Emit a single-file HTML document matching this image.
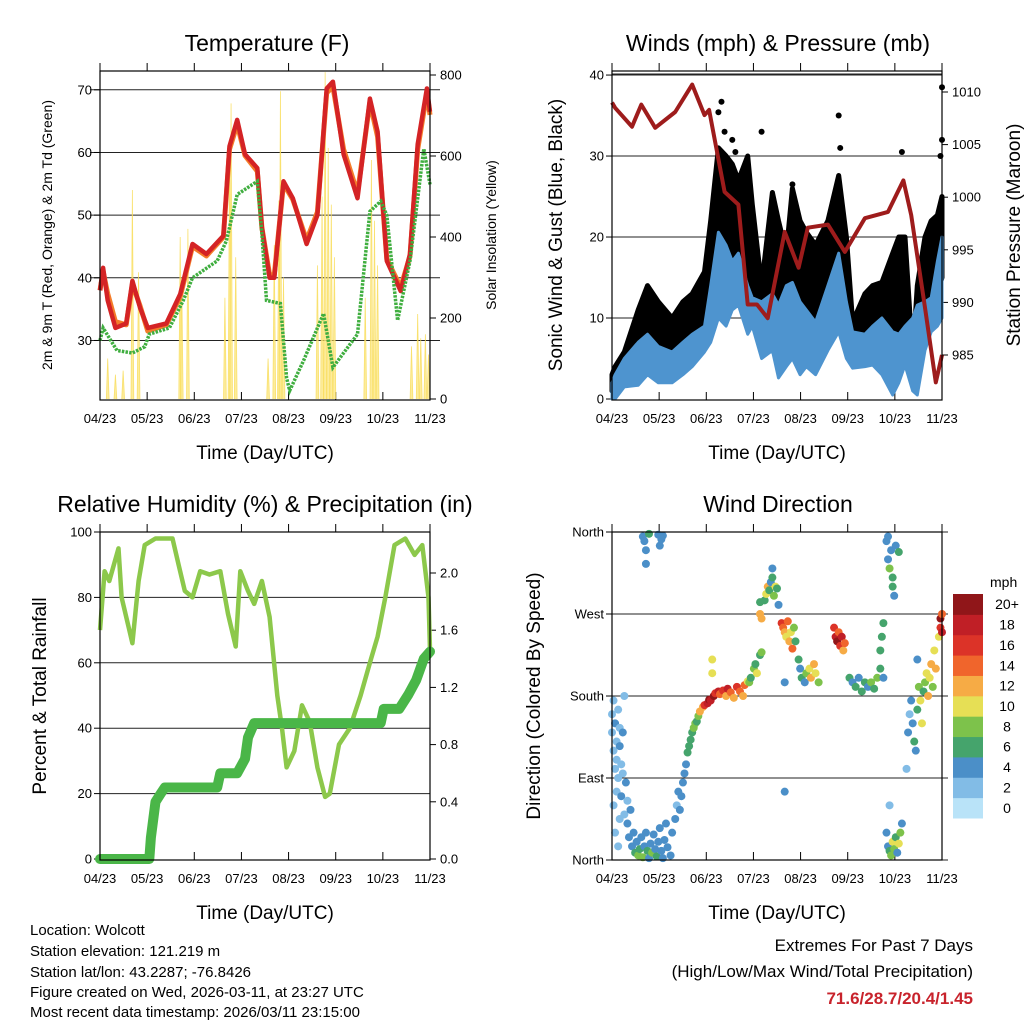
<!DOCTYPE html>
<html><head><meta charset="utf-8"><style>
html,body{margin:0;padding:0;background:#fff;}
svg{display:block;font-family:"Liberation Sans",sans-serif;}
</style></head><body>
<svg id="fig" width="1024" height="1024" viewBox="0 0 1024 1024" xmlns="http://www.w3.org/2000/svg">
<g id="p1"></g>
<g id="p2"></g>
<g id="p3"></g>
<g id="p4"></g>
<g font-size="15" fill="#000">
<text x="30" y="935">Location: Wolcott</text>
<text x="30" y="956">Station elevation: 121.219 m</text>
<text x="30" y="977">Station lat/lon: 43.2287; -76.8426</text>
<text x="30" y="997">Figure created on Wed, 2026-03-11, at 23:27 UTC</text>
<text x="30" y="1017">Most recent data timestamp: 2026/03/11 23:15:00</text>
</g>
<g font-size="17" text-anchor="end">
<text x="973" y="951">Extremes For Past 7 Days</text>
<text x="973" y="977">(High/Low/Max Wind/Total Precipitation)</text>
<text x="973" y="1004" font-weight="bold" fill="#c8232c">71.6/28.7/20.4/1.45</text>
</g>
</svg>
<script>
// ---- data ----
const monthLabels=["04/23","05/23","06/23","07/23","08/23","09/23","10/23","11/23"];
const tempDays=[0,2,5,10,17,21,26,31,43,52,60,69,80,84,89,94,102,105,110,113,119,125,134,141,147,151,158,167,175,180,186,195,201,206,212,214];
const temp2m=[38,41.6,36.4,32,32.7,39.5,35.2,32,32.7,37.4,45.4,43.8,46.7,61,65.2,59.7,57.5,48,40,40,55.4,52.7,45.4,50,70.2,71.3,59.7,52.7,68.6,63.3,42.7,37.9,43.8,61.3,70.2,66.5];
const temp9m=[38,41,37.5,33,32.5,39,35.5,31.5,32.5,37,45,43.5,46.5,60.5,64.5,59.5,57,48,40.5,40.5,55,52.5,46,50.5,69.5,70.5,60.5,53.5,68,62.5,43,38.5,43.5,60.5,69.5,66];
const dewDays=[0,2,11,21,29,32,45,54,60,76,82,89,102,105,108,117,121,123,132,145,151,167,175,182,186,193,201,210,214];
const dewVals=[30,32,28.4,28,29,31,32,36.4,40,42.7,45.9,53.3,55.4,47,36.4,35.9,24,22,26.8,34.3,25.7,31,50.6,52.2,50,33.2,42.7,60.6,54.9];
const solarDays=[5,10,15,21,25,52,53,57,81,84,85,88,109,113,116,117,119,141,144,146,148,150,152,172,176,178,180,202,206,208,211,213];
const solarVals=[100,60,70,516,313,400,300,420,250,600,730,350,100,380,490,760,300,330,500,807,620,480,350,250,590,440,330,130,210,150,160,110];
const rhDays=[0,3,6,12,14,18,21,25,29,36,47,51,55,60,65,71,78,83,88,91,96,100,105,110,115,118,121,126,131,136,141,146,149,155,162,169,175,180,185,191,198,204,209,213,214];
const rhVals=[70,88,85,95,80,72,66,85,96,98,98,90,82,80,88,87,88,75,65,88,82,78,85,74,50,40,28,33,47,42,28,19,20,35,40,50,60,68,80,96,98,93,96,80,64];
const rainDays=[0,32,33,36,39,42,76,78,89,94,96,100,182,184,194,200,205,210,214];
const rainVals=[0,0,0.15,0.4,0.45,0.5,0.5,0.6,0.6,0.7,0.85,0.95,0.95,1.05,1.05,1.15,1.25,1.4,1.45];
const presDays=[0,2,13,19,28,41,52,60,63,73,82,88,94,101,112,121,127,140,151,164,179,189,194,203,210,214];
const presVals=[1009,1008.5,1006.7,1008.8,1006.6,1008.1,1010.7,1007.8,1008.3,1000.5,999.3,989.8,989.8,988.5,996.7,993.3,997.1,997.4,994.8,998,998.6,1001.6,998.3,989.5,982.4,985];
const windDays=[0,2,8,17,23,30,39,46,52,60,64,69,74,78,82,88,91,97,104,108,113,117,122,126,132,140,147,152,156,164,169,175,182,186,190,195,198,203,207,211,214];
const windLo=[0,0,1.5,1.7,3,2,2,3,4,5.8,7,10,9,11,11.6,8,9,5,6,2.6,4,5,3,4,3,6,8.3,5,3.8,4,4.2,3,0.5,2,4.2,1,0.5,6,8.3,9,10];
const windHi=[2,3,5,7,8,6.5,5.8,7,8,9,14,20.6,19,17,18,14,12.5,12,13,11.6,14,14.4,12,11,9.5,14,18,12,8.3,8,9,10,8.3,8,9,10,11.6,12,12.5,17,20];
const gustLo=[1,2,3,5,7,6,5,6,7,8,12,17,16,15,15,12,10,9,10,9,11,11,10,9,8,11,14,9,7,7,7,8,6,6,7,7,8,10,10,13,15];
const gustHi=[3,4,5.8,11,14,12,10,12,13,15.7,22,31,30,29,27,30,24,14,25.5,22,18,26,22,20.6,19,22,27.6,20,9.5,13,14,14.4,18,20,20,5,14,20,22,22.7,25];
const gustOutDays=[69,71,73,78,80,97,117,147,148,188,214,214,213];
const gustOutVals=[35.4,36.7,33,32,30.5,33,26.5,35,31,30.5,38.5,32,30];
const dirDays=[0,0,1,1,2,2,3,3,4,4,5,5,6,7,7,1,2,3,4,5,6,8,8,9,10,
10,11,12,13,14,15,16,17,18,19,20,21,22,23,24,25,26,27,28,29,30,31,32,33,34,35,36,38,39,41,42,43,
20,21,22,22,24,30,31,32,33,
44,45,46,47,48,49,50,51,52,53,54,55,56,57,59,
60,62,63,64,66,67,69,70,72,74,75,77,79,81,83,85,86,88,65,65,
89,90,92,93,94,96,97,
99,100,101,102,103,104,104,105,106,107,108,96,96,97,
110,111,112,113,114,115,116,117,118,119,
121,122,123,125,126,128,129,131,132,134,112,112,
144,145,146,147,148,149,150,151,
154,156,158,160,162,164,166,168,170,172,174,174,175,176,176,
178,179,179,180,181,182,183,184,186,182,
178,179,180,181,182,183,184,185,186,187,188,180,
192,193,194,195,196,197,198,199,200,201,202,203,204,205,206,207,208,209,210,191,198,
212,213,213,214,214];
const dirDeg=[160,140,120,175,100,150,130,110,90,165,125,145,105,140,95,60,30,75,15,45,70,50,180,85,65,
40,25,55,15,30,8,20,5,12,25,3,15,30,10,2,18,8,28,12,4,20,35,10,2,22,40,14,5,30,45,60,75,
355,350,340,325,358,357,345,352,356,
55,70,85,95,105,118,125,132,140,145,150,152,158,163,168,
170,172,176,175,180,183,185,182,186,180,188,184,178,190,185,180,192,196,205,220,
195,200,210,215,205,225,228,
285,292,300,296,305,310,320,290,300,298,280,283,270,265,
260,255,250,245,262,240,250,232,255,240,
220,210,200,195,205,210,200,215,205,195,195,75,
255,245,240,250,235,245,230,238,
200,195,190,200,185,195,190,195,188,200,210,230,245,260,200,
350,355,330,320,340,310,290,345,338,300,
30,15,10,5,20,12,25,8,18,30,40,60,
140,160,175,150,130,120,165,190,175,150,185,195,205,180,200,215,190,230,210,100,220,
245,255,265,250,270];
const dirSpd=[2,1,2,2,1,3,2,2,1,2,3,2,2,3,2,1,1,2,1,2,3,2,1,3,2,
4,4,3,4,4,6,4,8,6,4,7,4,3,6,4,4,7,3,4,6,4,3,4,4,3,3,4,4,3,3,2,3,
4,3,4,4,6,4,4,3,3,
4,4,4,4,4,5,6,6,6,8,7,6,8,12,12,
16,18,20,18,20,16,18,14,16,12,18,14,12,16,14,12,14,10,10,10,
8,6,8,6,10,6,8,
6,10,12,6,4,6,4,8,10,6,4,6,12,12,
16,14,12,10,14,12,10,14,8,6,
6,4,6,4,8,10,12,12,10,8,4,4,
16,18,20,14,16,18,12,14,
6,4,6,4,6,6,4,8,6,8,6,6,6,6,4,
4,4,3,8,4,6,4,3,6,6,
4,4,6,8,10,8,6,4,10,8,4,2,
4,2,3,4,6,4,6,8,10,10,6,8,10,12,10,12,8,10,12,2,4,
10,16,20,18,14];
const speedTicks=["0","2","4","6","8","10","12","14","16","18","20+"];
const speedColors=["#b9e3f8","#82bce6","#4b8fc8","#45a46c","#7dc24b","#e6df55","#f6ab45","#f0652c","#dc3328","#c01f26","#901619"];

// ---- helpers ----
const NS="http://www.w3.org/2000/svg";
function mk(parent,tag,attrs,txt){const e=document.createElementNS(NS,tag);for(const k in attrs)e.setAttribute(k,attrs[k]);if(txt!==undefined)e.textContent=txt;parent.appendChild(e);return e;}
function linear(d0,d1,r0,r1){return v=>r0+(v-d0)/(d1-d0)*(r1-r0);}
function pathOf(xs,ys,fx,fy){return xs.map((d,i)=>(i?"L":"M")+fx(d).toFixed(1)+","+fy(ys[i]).toFixed(1)).join("");}

function frame(g,L,T,R,B,title,tx,xlab){
  const t=mk(g,"text",{x:tx,y:T-20,"font-size":23,"text-anchor":"middle"},title);
  
  
  const xl=mk(g,"text",{x:(L+R)/2,y:B+59,"font-size":19,"text-anchor":"middle"},xlab);
  
  
  const fx=linear(0,7,L,R);
  monthLabels.forEach((m,i)=>{
    const x=fx(i);
    mk(g,"line",{x1:x,y1:B,x2:x,y2:B-8,stroke:"#000","stroke-width":1});
    mk(g,"line",{x1:x,y1:T,x2:x,y2:T-8,stroke:"#000","stroke-width":1});
    const lb=mk(g,"text",{x:x,y:B+23,"font-size":13,"text-anchor":"middle"},m);
    
    
  });
}
function box(g,L,T,R,B){mk(g,"rect",{x:L,y:T,width:R-L,height:B-T,fill:"none",stroke:"#000","stroke-width":1.2});}
function leftTicks(g,L,R,vals,fy,labels,grid,ext){
  vals.forEach((v,i)=>{const y=fy(v);
    if(grid)mk(g,"line",{x1:L-ext,y1:y,x2:R+ext,y2:y,stroke:"#222","stroke-width":1});
    mk(g,"line",{x1:L,y1:y,x2:L-6,y2:y,stroke:"#000"});
    const t=mk(g,"text",{x:L-8,y:y+4.5,"font-size":13,"text-anchor":"end"},labels[i]);
    
    
  });
}
function rightTicks(g,R,vals,fy,labels){
  vals.forEach((v,i)=>{const y=fy(v);
    mk(g,"line",{x1:R,y1:y,x2:R+6,y2:y,stroke:"#000"});
    const t=mk(g,"text",{x:R+10,y:y+4.5,"font-size":13},labels[i]);
    
    
  });
}
function vlabel(g,x,y,txt,size,name){
  const t=mk(g,"text",{x:x,y:y,"font-size":size,"text-anchor":"middle",transform:`rotate(-90 ${x} ${y})`},txt);
  
  
}
const DAYS=214;

// ---- Panel 1 temperature ----
(function(){
  const g=document.getElementById("p1");const L=100,T=71,R=430,B=400;
  frame(g,L,T,R,B,"Temperature (F)",267,"Time (Day/UTC)");
  const fx=linear(0,DAYS,L,R),fy=linear(20.5,73,B,T),fs=linear(0,800,399,75);
  leftTicks(g,L,R,[30,40,50,60,70],fy,["30","40","50","60","70"],true,10);
  rightTicks(g,R,[0,200,400,600,800],fs,["0","200","400","600","800"]);
  solarDays.forEach((d,i)=>{
    const p=mk(g,"path",{d:`M${fx(d-0.9)},${fs(0)}L${fx(d)},${fs(solarVals[i])}L${fx(d+0.9)},${fs(0)}`,fill:"#fde98a",stroke:"#f9dc55","stroke-width":0.8,opacity:0.85});
    
    
  });
  const o=mk(g,"path",{d:pathOf(tempDays,temp9m,fx,fy),fill:"none",stroke:"#f47c2a","stroke-width":5,"stroke-linejoin":"round"});
  
  
  const r=mk(g,"path",{d:pathOf(tempDays,temp2m,fx,fy),fill:"none",stroke:"#d42325","stroke-width":4.5,"stroke-linejoin":"round"});
  
  
  const gr=mk(g,"path",{d:pathOf(dewDays,dewVals,fx,fy),fill:"none",stroke:"#3fae3f","stroke-width":3.5,"stroke-dasharray":"2.5 1.2"});
  
  
  box(g,L,T,R,B);
  vlabel(g,52,235,"2m & 9m T (Red, Orange) & 2m Td (Green)",14,"y-axis-title");
  vlabel(g,496,235,"Solar Insolation (Yellow)",14,"right-axis-title");
})();

// ---- Panel 2 winds ----
(function(){
  const g=document.getElementById("p2");const L=612,T=71,R=942,B=400;
  frame(g,L,T,R,B,"Winds (mph) & Pressure (mb)",778,"Time (Day/UTC)");
  const fx=linear(0,DAYS,L,R),fy=linear(0,40.5,399,71),fp=linear(985,1010,355,92);
  leftTicks(g,L,R,[10,20,30,40],fy,["10","20","30","40"],true,0);
  leftTicks(g,L,R,[0],fy,["0"],false,0);
  mk(g,"line",{x1:L,y1:74,x2:R,y2:74,stroke:"#222"});
  rightTicks(g,R,[985,990,995,1000,1005,1010],fp,["985","990","995","1000","1005","1010"]);
  function band(lo,hi,col,name,sw){
    const d=pathOf(windDays,hi,fx,fy)+windDays.slice().reverse().map((dd,i)=>"L"+fx(dd).toFixed(1)+","+fy(lo[lo.length-1-i]).toFixed(1)).join("")+"Z";
    const p=mk(g,"path",{d:d,fill:col,stroke:col,"stroke-width":sw,"stroke-linejoin":"round"});
    
    
  }
  band(gustLo,gustHi,"#000","gust-band",5);
  gustOutDays.forEach((d,i)=>{
    const c=mk(g,"circle",{cx:fx(d),cy:fy(gustOutVals[i]),r:3,fill:"#000"});
    
    
  });
  band(windLo,windHi,"#4e94cf","wind-band",3);
  const pr=mk(g,"path",{d:pathOf(presDays,presVals,fx,fp),fill:"none",stroke:"#9e1c1c","stroke-width":4,"stroke-linejoin":"round"});
  
  
  box(g,L,T,R,B);
  vlabel(g,562,235,"Sonic Wind & Gust (Blue, Black)",19,"y-axis-title");
  vlabel(g,1020,235,"Station Pressure (Maroon)",19,"right-axis-title");
})();

// ---- Panel 3 RH & precip ----
(function(){
  const g=document.getElementById("p3");const L=100,T=532,R=430,B=860;
  frame(g,L,T,R,B,"Relative Humidity (%) & Precipitation (in)",265,"Time (Day/UTC)");
  const fx=linear(0,DAYS,L,R),fy=linear(0,100,859,532),fr=linear(0,2.0,859,573);
  leftTicks(g,L,R,[20,40,60,80],fy,["20","40","60","80"],true,0);
  leftTicks(g,L,R,[0,100],fy,["0","100"],false,0);
  rightTicks(g,R,[0,0.4,0.8,1.2,1.6,2.0],fr,["0.0","0.4","0.8","1.2","1.6","2.0"]);
  const rh=mk(g,"path",{d:pathOf(rhDays,rhVals,fx,fy),fill:"none",stroke:"#8cc84b","stroke-width":4.5,"stroke-linejoin":"round"});
  
  
  const rn=mk(g,"path",{d:pathOf(rainDays,rainVals,fx,fr),fill:"none",stroke:"#4ab648","stroke-width":10,"stroke-linejoin":"round","stroke-linecap":"round"});
  
  
  box(g,L,T,R,B);
  vlabel(g,46,696,"Percent & Total Rainfall",19,"y-axis-title");
})();

// ---- Panel 4 wind direction ----
(function(){
  const g=document.getElementById("p4");const L=612,T=532,R=942,B=860;
  frame(g,L,T,R,B,"Wind Direction",778,"Time (Day/UTC)");
  const fx=linear(0,DAYS,L,R),fy=linear(0,360,860,532);
  leftTicks(g,L,R,[90,180,270],fy,["East","South","West"],true,6);
  leftTicks(g,L,R,[0,360],fy,["North","North"],true,6);
  dirDays.forEach((d,i)=>{
    const ci=Math.min(10,Math.round(dirSpd[i]/2));
    const c=mk(g,"circle",{cx:fx(d),cy:fy(dirDeg[i]),r:4,fill:speedColors[ci]});
    
    
  });
  box(g,L,T,R,B);
  vlabel(g,540,696,"Direction (Colored By Speed)",19,"y-axis-title");
  const cb=mk(g,"g",{});
  
  
  const h=224/speedTicks.length;
  speedTicks.forEach((s,i)=>{
    const y=818-(i+1)*h;
    mk(cb,"rect",{x:953,y:y,width:30,height:h+0.5,fill:speedColors[i]});
    const t=mk(cb,"text",{x:1007,y:y+h/2+5,"font-size":14,"text-anchor":"middle"},s);
    
    
  });
  const u=mk(cb,"text",{x:990,y:587,"font-size":14},"mph");
  
  
})();
</script>
</body></html>
